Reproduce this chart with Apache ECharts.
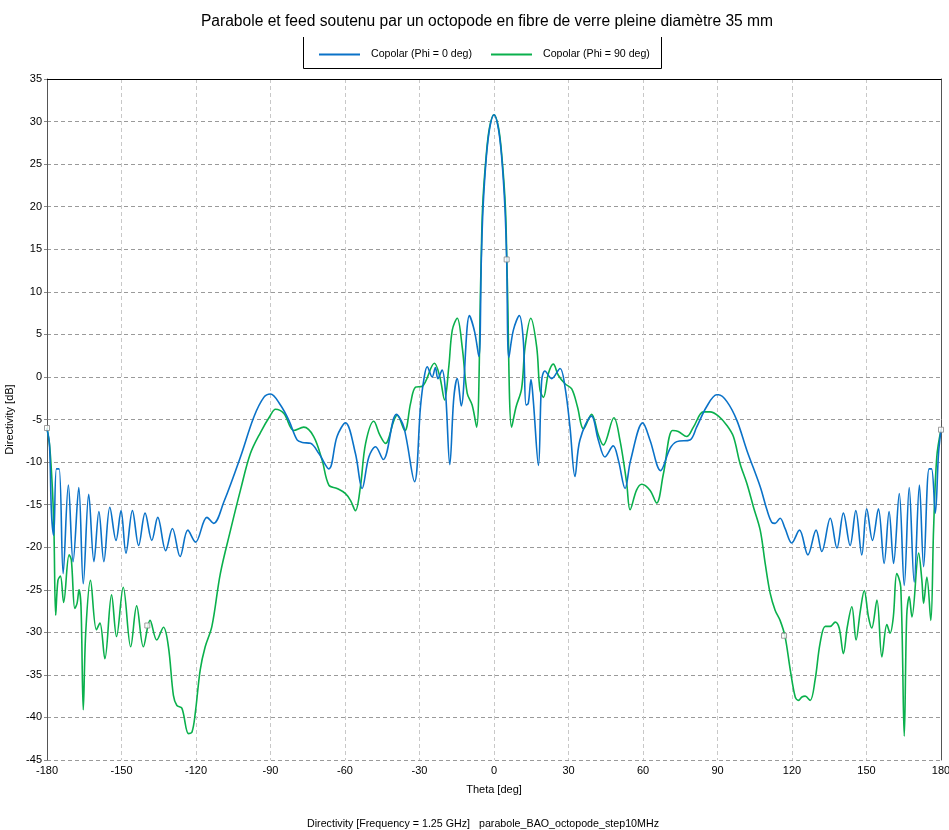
<!DOCTYPE html>
<html>
<head>
<meta charset="utf-8">
<script src="https://cdn.jsdelivr.net/npm/echarts@6/dist/echarts.min.js"></script>
<style>
html,body{margin:0;padding:0;background:#fff;}
#chart{width:949px;height:830px;}
</style>
</head>
<body>
<div id="chart"></div>
<script>
// ---- Data ----
const titleText = 'Parabole et feed soutenu par un octopode en fibre de verre pleine diamètre 35 mm';
const seriesNames = ['Copolar (Phi = 0 deg)', 'Copolar (Phi = 90 deg)'];
const xTicks = { min: -180, max: 180, step: 30 };
const yTicks = { min: -45, max: 35, step: 5 };

const theta0 = [-180,-179,-178.2,-177.3,-176.2,-175.1,-173.5,-171.4,-169.5,-167.2,-165.4,-163.2,-161.1,-159.1,-157.1,-154.7,-152.2,-150.2,-148.2,-145.6,-143.1,-140.5,-137.8,-135.4,-132.2,-129.5,-126.4,-123.3,-120.2,-115.6,-112.9,-108.8,-102.1,-96.7,-92.7,-90,-86,-82.6,-79.3,-77.2,-73.9,-70.5,-66.5,-63.2,-59.8,-55.8,-53.1,-50.4,-47.7,-44.6,-39.3,-36.3,-32,-29.6,-28.3,-26.9,-24.9,-23.6,-22.6,-20.9,-19.5,-17.8,-16.2,-14.8,-13.2,-9.9,-7.8,-6.1,-5.1,-4.4,-3.1,-1.7,0,1.7,3.1,4.4,5.1,6.0,7.8,10.2,11.8,12.9,13.8,14.9,15.8,17.9,19.2,20.5,23.2,26.6,28.6,30.6,32.6,34.6,39.3,42,44.7,48,50.1,52.8,55,59.9,62.8,67.1,70.9,73.6,78.9,81.6,85.6,89.7,90.4,93.8,97.8,101.8,107.2,109.9,111.9,113.2,115.2,117.2,119.9,123,126.4,129.7,132,135.4,138.1,140.7,143.4,145.7,148.1,150.1,152.4,154.8,157.1,159.1,160.9,163.2,165.2,167.2,169.2,171.3,173,175.2,176.2,177.7,179,180];
const dir0 = [-6.1,-8,-16,-18.6,-10.8,-10.8,-23.1,-12.7,-21.7,-13,-24.3,-13.8,-21.7,-15.8,-21.7,-15.3,-19.2,-15.7,-20.7,-15.7,-19.8,-16,-19.2,-16.5,-20.4,-17.8,-21.1,-18,-19.4,-16.5,-17.2,-14.7,-9.4,-4.7,-2.4,-2.0,-3.3,-5.1,-7.4,-7.7,-7.8,-9,-10.8,-7,-5.4,-9,-13.1,-9.4,-8.2,-9.7,-4.4,-5.9,-12.3,-3.5,-0.4,1.2,0,1.1,-0.2,0.8,-1.9,-10.3,-2.5,-0.2,-3.4,7.2,5.3,2.4,13.8,19.9,25.8,29.3,30.8,29.3,25.8,19.9,13.8,2.3,5.5,7.2,4.3,-3.3,-3.1,-0.3,-2.7,-10.4,-0.4,0.7,-0.2,1.0,-1.2,-5.9,-11.7,-7.4,-4.6,-7.4,-9.4,-8.1,-9.8,-13.1,-9.8,-5.4,-7.4,-11,-8.4,-7.6,-7.4,-5.9,-3.5,-2.1,-2.1,-2.9,-5.1,-8.6,-12.9,-15.6,-17.1,-17.2,-16.6,-17.8,-19.5,-18,-20.9,-18,-20.5,-16.6,-20.1,-16,-19.8,-15.7,-20.9,-15.5,-19.2,-15.5,-21.9,-15.8,-21.9,-13.7,-24.5,-13,-24.1,-12.7,-22.3,-10.8,-10.8,-16,-9,-6.2];

const theta90 = [-180,-178.9,-177.8,-177.2,-176.5,-175.6,-174.6,-173.3,-171.1,-170.2,-168.8,-167.9,-167.1,-166.3,-165.4,-164.4,-162.5,-160.1,-158.7,-156.7,-154,-152,-149.3,-146.3,-143.9,-141.2,-138.5,-135.8,-133.1,-131.1,-129.1,-127.7,-125.7,-123,-121.6,-120.3,-118.3,-116.3,-113.6,-110.2,-106.1,-102.1,-98.1,-94,-90,-88,-84.6,-80.6,-76.6,-72.6,-69.2,-66.5,-63.2,-59.8,-57.8,-55.8,-53.8,-51.7,-48.4,-46,-43.7,-40.3,-39,-35.9,-33.6,-31.6,-28.9,-24,-21.8,-19.9,-18.2,-16.8,-14.8,-12.8,-10.8,-8.8,-7,-5.3,-4.6,-3.2,-1.8,0,1.8,3.2,4.6,5.3,7.1,8.9,11.1,12.5,14.8,17.2,18.5,19.9,21.9,23.9,25.9,28.6,31.3,33.6,36,39.3,42,44,48.3,50.7,53.4,54.8,57.4,59.5,62.8,65.5,68.2,71.9,74.2,77.6,80.3,84.3,87,90.4,93.8,96.4,99.1,101.8,104.5,107.2,109.2,111.2,113.2,115.2,117.2,119.3,121.3,122.6,124,125.3,127.3,129.3,131.3,133.4,135.4,137.4,139,140.7,142.3,144.1,145.8,147.5,149.1,150.8,152.1,154.2,156.2,158.2,159.5,160.8,162.2,163.8,165.2,166.2,167.2,168.3,171,172.3,173,174.3,175.9,177,178.3,180];
const dir90 = [-6.0,-8.2,-13.3,-18,-28,-23.9,-23.4,-26.5,-20.9,-21.5,-27.2,-26.6,-25,-27,-39.1,-30,-23.9,-29.7,-28.9,-33.1,-25.6,-30.5,-24.7,-31.7,-26.9,-31.7,-28.6,-30.9,-29.4,-31.7,-37.4,-38.6,-38.9,-41.9,-41.7,-39.5,-34.4,-31.7,-29.3,-23.1,-18,-13.3,-9,-6.5,-4.5,-3.8,-4.3,-6.3,-5.9,-7,-9.8,-12.7,-13.1,-13.7,-14.5,-15.7,-12.9,-7.8,-5.2,-6.8,-7.8,-5.1,-4.5,-6.3,-3.1,-1.2,-1.1,1.6,0,-2.7,1.2,5.5,6.9,3.5,-1.9,-3.3,-5.9,12,19.9,25.8,29.3,30.8,29.3,25.8,19.9,12,-5.9,-3.5,-1.4,3.5,6.9,3.5,-1.5,-2.4,0.4,1.5,0.2,-0.8,-1.4,-3.5,-6.1,-4.4,-6.8,-8,-4.8,-7.4,-12.4,-15.6,-13.3,-12.6,-13.3,-14.8,-11.4,-6.3,-6.4,-7,-5.9,-4.1,-4.1,-4.6,-5.7,-7,-10.2,-12.5,-15.3,-18,-21.9,-25.4,-27.4,-28.6,-30.5,-34.4,-37.6,-38,-37.6,-37.5,-38,-35.6,-31.3,-29.3,-29.3,-28.8,-29.5,-32.5,-29.3,-27,-30.9,-27.5,-25.1,-28.2,-29.5,-26.2,-32.9,-29.1,-30.1,-28.2,-23.1,-24.7,-42.2,-28,-25.8,-28.2,-20.7,-23.9,-26.6,-23.5,-28.6,-18,-9.4,-6.2];

// small hollow square markers seen on the curves
const markerTheta = [-180, -139.6, 5.1, 116.8, 180];
const markerDir = [-6.0, -29.2, 13.8, -30.4, -6.2];

const zip = (a, b) => a.map((x, i) => [x, b[i]]);

const FONT = "'Liberation Sans',Arial,sans-serif";
const chart = echarts.init(document.getElementById('chart'), null, {renderer: 'canvas'});

chart.setOption({
  backgroundColor: '#ffffff',
  animation: false,
  title: [
    {
      text: titleText,
      left: 482, top: 9, textAlign: 'center',
      textStyle: {fontFamily: FONT, fontSize: 15.6, fontWeight: 'normal', color: '#000'}
    },
    {
      text: 'Directivity [Frequency = 1.25 GHz]   parabole_BAO_octopode_step10MHz',
      left: 478, top: 814, textAlign: 'center',
      textStyle: {fontFamily: FONT, fontSize: 10.7, fontWeight: 'normal', color: '#000'}
    }
  ],
  legend: {
    data: seriesNames,
    left: 314, top: 44,
    icon: 'rect',
    itemWidth: 41, itemHeight: 2,
    itemGap: 19,
    textStyle: {fontFamily: FONT, fontSize: 10.6, color: '#000', padding: [0, 0, 0, 6]}
  },
  graphic: [
    {
      type: 'polyline',
      shape: {points: [[303.5, 37], [303.5, 68.5], [661.5, 68.5], [661.5, 37]]},
      style: {stroke: '#000', lineWidth: 1, fill: null},
      silent: true
    }
  ],
  grid: {left: 47, right: 8, top: 79, bottom: 70, containLabel: false, outerBoundsMode: 'none'},
  xAxis: [
    {
      type: 'value', min: xTicks.min, max: xTicks.max, interval: xTicks.step,
      name: 'Theta [deg]', nameLocation: 'middle', nameGap: 24,
      nameTextStyle: {fontFamily: FONT, fontSize: 11, color: '#000'},
      axisLine: {show: false, onZero: false},
      axisTick: {show: false},
      axisLabel: {fontFamily: FONT, fontSize: 11, color: '#000', margin: 5},
      splitLine: {show: true, lineStyle: {color: '#c8c8c8', type: [4, 3], width: 1}}
    },
    {
      type: 'value', position: 'top', min: xTicks.min, max: xTicks.max,
      axisLine: {show: true, onZero: false, lineStyle: {color: '#000', width: 1}},
      axisTick: {show: false}, axisLabel: {show: false}, splitLine: {show: false}
    }
  ],
  yAxis: [
    {
      type: 'value', min: yTicks.min, max: yTicks.max, interval: yTicks.step,
      name: 'Directivity [dB]', nameLocation: 'middle', nameGap: 27,
      nameTextStyle: {fontFamily: FONT, fontSize: 11, color: '#000'},
      axisLine: {show: true, onZero: false, lineStyle: {color: '#555', width: 1}},
      axisTick: {show: true, length: 3, lineStyle: {color: '#888'}},
      axisLabel: {fontFamily: FONT, fontSize: 11, color: '#000', margin: 5},
      splitLine: {show: true, lineStyle: {color: '#9a9a9a', type: [4, 3], width: 1}}
    },
    {
      type: 'value', position: 'right', min: yTicks.min, max: yTicks.max,
      axisLine: {show: true, onZero: false, lineStyle: {color: '#555', width: 1}},
      axisTick: {show: false}, axisLabel: {show: false}, splitLine: {show: false}
    }
  ],
  series: [
    {
      name: seriesNames[0], type: 'line', data: zip(theta0, dir0),
      smooth: 0.35, showSymbol: false, symbol: 'none',
      lineStyle: {color: '#0a72c8', width: 1.6},
      itemStyle: {color: '#0a72c8'}, z: 3
    },
    {
      name: seriesNames[1], type: 'line', data: zip(theta90, dir90),
      smooth: 0.35, showSymbol: false, symbol: 'none',
      lineStyle: {color: '#0ab04c', width: 1.6},
      itemStyle: {color: '#0ab04c'}, z: 2
    },
    {
      name: 'markers', type: 'scatter', data: zip(markerTheta, markerDir),
      symbol: 'rect', symbolSize: 5,
      itemStyle: {color: '#fff', borderColor: '#888', borderWidth: 1}, z: 5
    }
  ]
});
</script>
</body>
</html>
